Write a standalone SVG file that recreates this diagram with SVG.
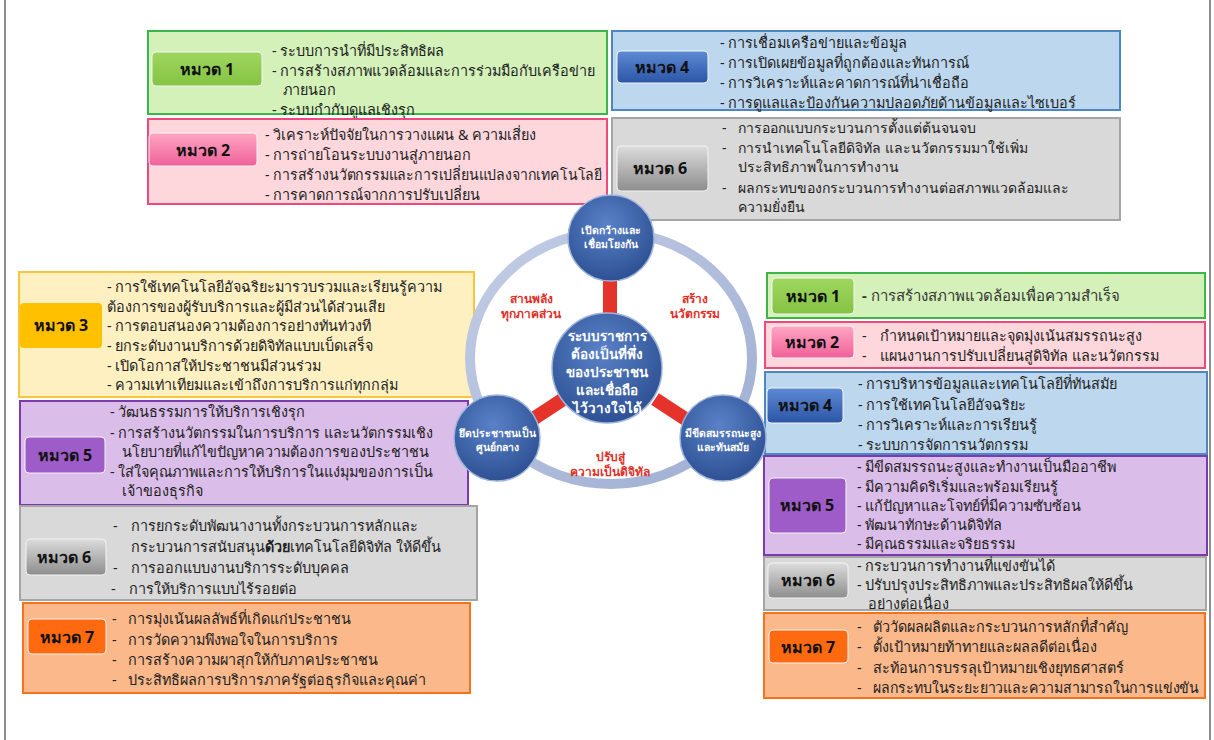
<svg xmlns="http://www.w3.org/2000/svg" width="1214" height="740" viewBox="0 0 1214 740">
<defs>
<style>
.t{font-family:"Noto Sans","DejaVu Sans",sans-serif;font-size:14.4px;fill:#222}
.t1{font-family:"Noto Sans","DejaVu Sans",sans-serif;font-size:15px;fill:#333}
.ts{font-family:"Noto Sans","DejaVu Sans",sans-serif;font-size:14px;fill:#222}
.b{font-family:"Noto Sans","DejaVu Sans",sans-serif;font-size:16px;font-weight:bold;fill:#111;text-anchor:middle}
.c{font-family:"Noto Sans","DejaVu Sans",sans-serif;font-size:10.4px;font-weight:bold;fill:#fff;text-anchor:middle}
.cc{font-family:"Noto Sans","DejaVu Sans",sans-serif;font-size:13.5px;font-weight:bold;fill:#fff;text-anchor:middle}
.r{font-family:"Noto Sans","DejaVu Sans",sans-serif;font-size:12px;font-weight:bold;fill:#e0302a;text-anchor:middle}
.g{fill:#d3f1b9;stroke:#3cb54a;stroke-width:2}
.p{fill:#fed7dc;stroke:#ec4a7d;stroke-width:2}
.bl{fill:#bdd7ee;stroke:#4c87c4;stroke-width:2}
.gr{fill:#d9d9d9;stroke:#a5a5a5;stroke-width:2}
.y{fill:#fff0c2;stroke:#f7c53e;stroke-width:2}
.pu{fill:#dbbde9;stroke:#7a3bab;stroke-width:2}
.o{fill:#fbb98b;stroke:#f3731f;stroke-width:2}
.bd{stroke:#f4f4f4;stroke-width:1}
.node{fill:url(#cg);stroke:#9fb4dc;stroke-width:1.5}
</style>
<linearGradient id="gG" x1="0" y1="0" x2="0" y2="1"><stop offset="0" stop-color="#9fd65f"/><stop offset="1" stop-color="#84c343"/></linearGradient>
<linearGradient id="gP" x1="0" y1="0" x2="0" y2="1"><stop offset="0" stop-color="#ffa6c2"/><stop offset="1" stop-color="#f0619a"/></linearGradient>
<linearGradient id="gB" x1="0" y1="0" x2="0" y2="1"><stop offset="0" stop-color="#5d8ad4"/><stop offset="1" stop-color="#2c55a6"/></linearGradient>
<linearGradient id="gR" x1="0" y1="0" x2="0" y2="1"><stop offset="0" stop-color="#dcdcdc"/><stop offset="1" stop-color="#8d8d8d"/></linearGradient>
<linearGradient id="rg" x1="0" y1="0" x2="1" y2="1"><stop offset="0" stop-color="#c3cde6"/><stop offset="1" stop-color="#9eadd1"/></linearGradient>
<radialGradient id="cg" cx="0.45" cy="0.35" r="0.7"><stop offset="0" stop-color="#5a82c8"/><stop offset="1" stop-color="#2a4d8f"/></radialGradient>
</defs>
<rect x="5" y="-2" width="1205" height="744" fill="#fff" stroke="#444" stroke-width="1.2"/>

<g id="tl-h1"><rect class="g" x="148" y="31" width="459" height="83"/><rect class="bd" x="152" y="52" width="110" height="34" rx="4" fill="url(#gG)"/><text class="b" x="207" y="75">หมวด 1</text>
<text class="t" x="272" y="56">- ระบบการนำที่มีประสิทธิผล</text><text class="t" x="272" y="76">- การสร้างสภาพแวดล้อมและการร่วมมือกับเครือข่าย</text><text class="t" x="283" y="95">ภายนอก</text><text class="t" x="272" y="115">- ระบบกำกับดูแลเชิงรุก</text></g>

<g id="tl-h2"><rect class="p" x="148" y="119" width="459" height="85"/><rect class="bd" x="149" y="133" width="108" height="33" rx="4" fill="url(#gP)"/><text class="b" x="203" y="156">หมวด 2</text>
<text class="t" x="265" y="140">- วิเคราะห์ปัจจัยในการวางแผน &amp; ความเสี่ยง</text><text class="t" x="265" y="160">- การถ่ายโอนระบบงานสู่ภายนอก</text><text class="t" x="265" y="180" textLength="337" lengthAdjust="spacingAndGlyphs">- การสร้างนวัตกรรมและการเปลี่ยนแปลงจากเทคโนโลยี</text><text class="t" x="265" y="200">- การคาดการณ์จากการปรับเปลี่ยน</text></g>

<g id="tr-h4"><rect class="bl" x="612" y="31" width="508" height="79"/><rect class="bd" x="617" y="51" width="91" height="32" rx="4" fill="url(#gB)"/><text class="b" x="662" y="73">หมวด 4</text>
<text class="t" x="720" y="48">- การเชื่อมเครือข่ายและข้อมูล</text><text class="t" x="720" y="68">- การเปิดเผยข้อมูลที่ถูกต้องและทันการณ์</text><text class="t" x="720" y="88">- การวิเคราะห์และคาดการณ์ที่น่าเชื่อถือ</text><text class="t" x="720" y="108">- การดูแลและป้องกันความปลอดภัยด้านข้อมูลและไซเบอร์</text></g>

<g id="tr-h6"><rect class="gr" x="612" y="118" width="508" height="102"/><rect class="bd" x="617" y="146" width="91" height="45" rx="4" fill="url(#gR)"/><text class="b" x="660" y="174">หมวด 6</text>
<text class="ts" x="722" y="133">-</text><text class="ts" x="738" y="133">การออกแบบกระบวนการตั้งแต่ต้นจนจบ</text><text class="ts" x="722" y="153">-</text><text class="ts" x="738" y="153">การนำเทคโนโลยีดิจิทัล และนวัตกรรมมาใช้เพิ่ม</text><text class="ts" x="738" y="172">ประสิทธิภาพในการทำงาน</text><text class="ts" x="722" y="193">-</text><text class="ts" x="738" y="193">ผลกระทบของกระบวนการทำงานต่อสภาพแวดล้อมและ</text><text class="ts" x="738" y="212">ความยั่งยืน</text></g>

<g id="l-h3"><rect class="y" x="19" y="272" width="455" height="125"/><rect x="20" y="303" width="82" height="45" rx="4" fill="#ffc000"/><text class="b" x="61" y="331">หมวด 3</text>
<text class="t" x="107" y="292">- การใช้เทคโนโลยีอัจฉริยะมารวบรวมและเรียนรู้ความ</text><text class="t" x="107" y="312">ต้องการของผู้รับบริการและผู้มีส่วนได้ส่วนเสีย</text><text class="t" x="107" y="331">- การตอบสนองความต้องการอย่างทันท่วงที</text><text class="t" x="107" y="351">- ยกระดับงานบริการด้วยดิจิทัลแบบเบ็ดเสร็จ</text><text class="t" x="107" y="371">- เปิดโอกาสให้ประชาชนมีส่วนร่วม</text><text class="t" x="107" y="390">- ความเท่าเทียมและเข้าถึงการบริการแก่ทุกกลุ่ม</text></g>

<g id="l-h5"><rect class="pu" x="20" y="401" width="448" height="104"/><rect class="bd" x="25" y="437" width="80" height="36" rx="4" fill="#9e5cc8"/><text class="b" x="65" y="461">หมวด 5</text>
<text class="t" x="110" y="417">- วัฒนธรรมการให้บริการเชิงรุก</text><text class="t" x="110" y="438">- การสร้างนวัตกรรมในการบริการ และนวัตกรรมเชิง</text><text class="t" x="122" y="457">นโยบายที่แก้ไขปัญหาความต้องการของประชาชน</text><text class="t" x="110" y="477">- ใส่ใจคุณภาพและการให้บริการในแง่มุมของการเป็น</text><text class="t" x="122" y="496">เจ้าของธุรกิจ</text></g>

<g id="l-h6"><rect class="gr" x="20" y="506" width="457" height="94"/><rect class="bd" x="26" y="539" width="80" height="36" rx="4" fill="url(#gR)"/><text class="b" x="64" y="563">หมวด 6</text>
<text class="t" x="113" y="531">-</text><text class="t" x="131" y="531">การยกระดับพัฒนางานทั้งกระบวนการหลักและ</text><text class="t" x="131" y="552">กระบวนการสนับสนุน<tspan font-weight="bold">ด้วย</tspan>เทคโนโลยีดิจิทัล  ให้ดีขึ้น</text><text class="t" x="113" y="573">-</text><text class="t" x="131" y="573">การออกแบบงานบริการระดับบุคคล</text><text class="t" x="111" y="594">-</text><text class="t" x="129" y="594">การให้บริการแบบไร้รอยต่อ</text></g>

<g id="l-h7"><rect class="o" x="23" y="603" width="447" height="90"/><rect class="bd" x="28" y="619" width="78" height="35" rx="4" fill="#ff6a10"/><text class="b" x="67" y="643">หมวด 7</text>
<text class="t" x="112" y="624">-</text><text class="t" x="128" y="624">การมุ่งเน้นผลลัพธ์ที่เกิดแก่ประชาชน</text><text class="t" x="112" y="645">-</text><text class="t" x="128" y="645">การวัดความพึงพอใจในการบริการ</text><text class="t" x="112" y="665">-</text><text class="t" x="128" y="665">การสร้างความผาสุกให้กับภาคประชาชน</text><text class="t" x="112" y="685">-</text><text class="t" x="128" y="685">ประสิทธิผลการบริการภาครัฐต่อธุรกิจและคุณค่า</text></g>

<g id="r-h1"><rect class="g" x="767" y="273" width="438" height="45"/><rect class="bd" x="772" y="278" width="82" height="36" rx="4" fill="url(#gG)"/><text class="b" x="813" y="302">หมวด 1</text>
<text class="t1" x="862" y="301"><tspan font-weight="bold">-</tspan> การสร้างสภาพแวดล้อมเพื่อความสำเร็จ</text></g>

<g id="r-h2"><rect class="p" x="765" y="322" width="440" height="46"/><rect class="bd" x="771" y="326" width="83" height="32" rx="4" fill="url(#gP)"/><text class="b" x="812" y="348">หมวด 2</text>
<text class="t" x="862" y="341">-</text><text class="t" x="880" y="341">กำหนดเป้าหมายและจุดมุ่งเน้นสมรรถนะสูง</text><text class="t" x="862" y="361">-</text><text class="t" x="880" y="361">แผนงานการปรับเปลี่ยนสู่ดิจิทัล และนวัตกรรม</text></g>

<g id="r-h4"><rect class="bl" x="765" y="372" width="442" height="82"/><rect class="bd" x="767" y="388" width="76" height="35" rx="4" fill="url(#gB)"/><text class="b" x="805" y="411">หมวด 4</text>
<text class="t" x="858" y="389">- การบริหารข้อมูลและเทคโนโลยีที่ทันสมัย</text><text class="t" x="858" y="410">- การใช้เทคโนโลยีอัจฉริยะ</text><text class="t" x="858" y="430">- การวิเคราะห์และการเรียนรู้</text><text class="t" x="858" y="450">- ระบบการจัดการนวัตกรรม</text></g>

<g id="r-h5"><rect class="pu" x="764" y="456" width="443" height="99"/><rect class="bd" x="769" y="478" width="77" height="55" rx="4" fill="#9e5cc8"/><text class="b" x="807" y="511">หมวด 5</text>
<text class="t" x="857" y="472">- มีขีดสมรรถนะสูงและทำงานเป็นมืออาชีพ</text><text class="t" x="857" y="492">- มีความคิดริเริ่มและพร้อมเรียนรู้</text><text class="t" x="857" y="511">- แก้ปัญหาและโจทย์ที่มีความซับซ้อน</text><text class="t" x="857" y="530">- พัฒนาทักษะด้านดิจิทัล</text><text class="t" x="857" y="549">- มีคุณธรรมและจริยธรรม</text></g>

<g id="r-h6"><rect class="gr" x="764" y="557" width="442" height="53"/><rect class="bd" x="768" y="563" width="80" height="35" rx="4" fill="url(#gR)"/><text class="b" x="808" y="586">หมวด 6</text>
<text class="t" x="857" y="571">- กระบวนการทำงานที่แข่งขันได้</text><text class="t" x="857" y="590">- ปรับปรุงประสิทธิภาพและประสิทธิผลให้ดีขึ้น</text><text class="t" x="868" y="609">อย่างต่อเนื่อง</text></g>

<g id="r-h7"><rect class="o" x="764" y="613" width="441" height="85"/><rect class="bd" x="769" y="630" width="79" height="33" rx="4" fill="#ff6a10"/><text class="b" x="808" y="653">หมวด 7</text>
<text class="t" x="857" y="632">-</text><text class="t" x="873" y="632">ตัววัดผลผลิตและกระบวนการหลักที่สำคัญ</text><text class="t" x="857" y="652">-</text><text class="t" x="873" y="652">ตั้งเป้าหมายท้าทายและผลลดีต่อเนื่อง</text><text class="t" x="857" y="673">-</text><text class="t" x="873" y="673">สะท้อนการบรรลุเป้าหมายเชิงยุทธศาสตร์</text><text class="t" x="857" y="693">-</text><text class="t" x="873" y="693" textLength="326" lengthAdjust="spacingAndGlyphs">ผลกระทบในระยะยาวและความสามารถในการแข่งขัน</text></g>

<g id="ring"><ellipse cx="611" cy="358" rx="141" ry="126" fill="none" stroke="url(#rg)" stroke-width="10"/></g>

<g id="connectors" stroke="#e5322a" stroke-width="14">
<line x1="610" y1="278" x2="610" y2="318"/>
<line x1="530" y1="421" x2="562" y2="400"/>
<line x1="655" y1="399" x2="690" y2="422"/>
</g>

<g id="labels"><text class="r" x="531" y="303">สานพลัง</text><text class="r" x="531" y="318">ทุกภาคส่วน</text>
<text class="r" x="695" y="303">สร้าง</text><text class="r" x="695" y="318">นวัตกรรม</text>
<text class="r" x="610" y="461">ปรับสู่</text><text class="r" x="610" y="476">ความเป็นดิจิทัล</text></g>

<g id="center"><circle class="node" cx="607" cy="368" r="55"/>
<text class="cc" x="607" y="341">ระบบราชการ</text><text class="cc" x="607" y="359">ต้องเป็นที่พึ่ง</text><text class="cc" x="607" y="377">ของประชาชน</text><text class="cc" x="607" y="395">และเชื่อถือ</text><text class="cc" x="607" y="413">ไว้วางใจได้</text></g>
<g id="c-top"><circle class="node" cx="611" cy="238" r="43"/><text class="c" x="611" y="234">เปิดกว้างและ</text><text class="c" x="611" y="248">เชื่อมโยงกัน</text></g>
<g id="c-left"><circle class="node" cx="497" cy="438" r="43"/><text class="c" x="497" y="437">ยึดประชาชนเป็น</text><text class="c" x="497" y="451">ศูนย์กลาง</text></g>
<g id="c-right"><circle class="node" cx="723" cy="438" r="43"/><text class="c" x="723" y="437">มีขีดสมรรถนะสูง</text><text class="c" x="723" y="451">และทันสมัย</text></g>
</svg>
